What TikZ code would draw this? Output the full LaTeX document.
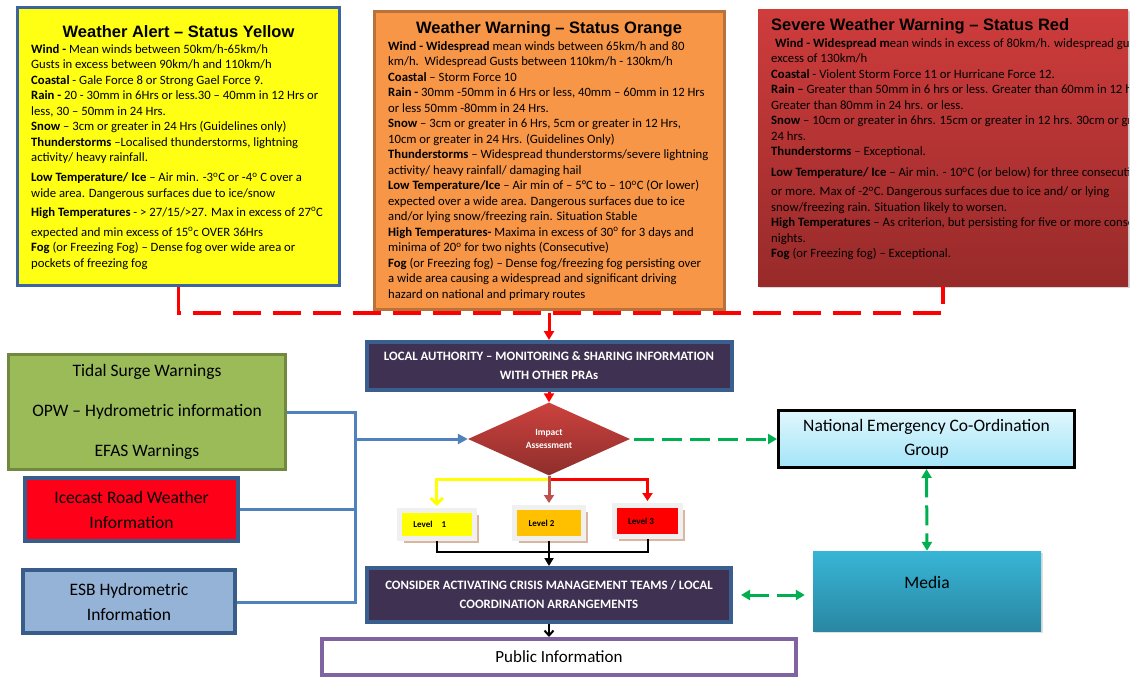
\documentclass[tikz,border=0pt]{standalone}
\usepackage{fontspec}
\setmainfont{Carlito}
\newfontfamily\headfont{Liberation Sans}
\usepackage{xcolor}
\usetikzlibrary{shapes.geometric,arrows.meta,shadows}

\definecolor{alertyellow}{HTML}{FFFF14}
\definecolor{alertframe}{HTML}{3B64A0}
\definecolor{warnorange}{HTML}{F79646}
\definecolor{warnframe}{HTML}{B9723A}
\definecolor{severetop}{HTML}{CF3C3C}
\definecolor{severebottom}{HTML}{982A2A}
\definecolor{alertred}{HTML}{FF0000}
\definecolor{actionpurple}{HTML}{3F3151}
\definecolor{actionframe}{HTML}{3A5E8E}
\definecolor{impacttop}{HTML}{CC423E}
\definecolor{impactbottom}{HTML}{8E2E2B}
\definecolor{feedblue}{HTML}{4F81BD}
\definecolor{tidalgreen}{HTML}{9BBB59}
\definecolor{tidalframe}{HTML}{71893F}
\definecolor{icecastred}{HTML}{FF0019}
\definecolor{esbblue}{HTML}{95B3D7}
\definecolor{sourceframe}{HTML}{385D8A}
\definecolor{necgtop}{HTML}{E0F7FD}
\definecolor{necgbottom}{HTML}{A3E4F8}
\definecolor{mediatop}{HTML}{38B5D6}
\definecolor{mediabottom}{HTML}{2987A2}
\definecolor{linkgreen}{HTML}{00B050}
\definecolor{levelyellow}{HTML}{FFFF00}
\definecolor{levelamber}{HTML}{FFC000}
\definecolor{levelred}{HTML}{FF0000}
\definecolor{levelarrow}{HTML}{C0504D}
\definecolor{levelframe}{HTML}{F0F0F0}
\definecolor{levelshadow}{HTML}{D9B79F}
\definecolor{publicframe}{HTML}{8064A2}

\begin{document}
\begin{tikzpicture}[x=1pt,y=-1pt]
		 %\draw[help lines] (0,0) grid (1134,678);
		 \tikzset{
		 box/.style 		= {rectangle, inner sep=0pt},
		 boxtitle/.style 	= {inner sep=0pt, font=\headfont\bfseries\fontsize{16.5}{19}\selectfont},
		 bodytext/.style 	= {align=left, inner sep=0pt, font=\fontsize{12.7}{15.5}\selectfont},
		 actionbox/.style 	= {box, draw=actionframe, line width=4pt, fill=actionpurple, text=white, align=center, font=\bfseries\fontsize{12.8}{19}\selectfont},
		 sourcebox/.style 	= {box, draw=sourceframe, line width=4pt, align=center, font=\fontsize{17.5}{25}\selectfont},
		 levelbox/.style 	= {box, draw=levelframe, line width=5pt, font=\bfseries\fontsize{9}{11}\selectfont,
		 					   drop shadow={fill=levelshadow, opacity=1, shadow xshift=4.5pt, shadow yshift=-4.5pt}},
		 alertline/.style 	= {draw=alertred, line width=3.5pt, dash pattern=on 28pt off 12pt},
		 alertarrow/.style 	= {draw=alertred, line width=3pt, -{Triangle[length=9pt,width=10pt]}},
		 feedline/.style 	= {draw=feedblue, line width=3pt},
		 linkline/.style 	= {draw=linkgreen, line width=3pt, dash pattern=on 20pt off 8pt},
		 levelflow/.style 	= {draw=black, line width=2pt}
		 }
		 \fill[white] (0,0) rectangle (1134,678);
		 \useasboundingbox (0,0) rectangle (1134,678);
		 
		 % warning boxes
		 \node[box, draw=alertframe, line width=3pt, fill=alertyellow, minimum width=322pt, minimum height=278pt] (yellowbox) at (178.5,146.5) {};
		 \node[boxtitle] (yellowtitle) at (178.5,32) {Weather Alert – Status Yellow};
		 \node[bodytext, anchor=north west] (yellowtext) at (31,44) {%
		 \textbf{Wind -} Mean winds between 50km/h-65km/h\\
		 Gusts in excess between 90km/h and 110km/h\\
		 \textbf{Coastal} - Gale Force 8 or Strong Gael Force 9.\\
		 \textbf{Rain -} 20 - 30mm in 6Hrs or less.30 – 40mm in 12 Hrs or\\
		 less, 30 – 50mm in 24 Hrs.\\
		 \textbf{Snow} – 3cm or greater in 24 Hrs (Guidelines only)\\
		 \textbf{Thunderstorms} –Localised thunderstorms, lightning\\
		 activity/ heavy rainfall.\\[4.5pt]
		 \textbf{Low Temperature/ Ice} – Air min. -3\textsuperscript{o}C or -4\textsuperscript{o} C over a\\
		 wide area. Dangerous surfaces due to ice/snow\\[3.5pt]
		 \textbf{High Temperatures} - > 27/15/>27. Max in excess of 27\textsuperscript{o}C\\[4.5pt]
		 expected and min excess of 15\textsuperscript{o}c OVER 36Hrs\\
		 \textbf{Fog} (or Freezing Fog) – Dense fog over wide area or\\
		 pockets of freezing fog};
		 
		 \node[box, draw=warnframe, line width=3pt, fill=warnorange, minimum width=350pt, minimum height=298pt] (orangebox) at (549,160.5) {};
		 \node[boxtitle] (orangetitle) at (549,29) {Weather Warning – Status Orange};
		 \node[bodytext, anchor=north west] (orangetext) at (388,41) {%
		 \textbf{Wind - Widespread} mean winds between 65km/h and 80\\
		 km/h.\ \ Widespread Gusts between 110km/h - 130km/h\\
		 \textbf{Coastal} – Storm Force 10\\
		 \textbf{Rain -} 30mm -50mm in 6 Hrs or less, 40mm – 60mm in 12 Hrs\\
		 or less 50mm -80mm in 24 Hrs.\\
		 \textbf{Snow} – 3cm or greater in 6 Hrs, 5cm or greater in 12 Hrs,\\
		 10cm or greater in 24 Hrs. (Guidelines Only)\\
		 \textbf{Thunderstorms} – Widespread thunderstorms/severe lightning\\
		 activity/ heavy rainfall/ damaging hail\\
		 \textbf{Low Temperature/Ice} – Air min of – 5°C to – 10\textsuperscript{o}C (Or lower)\\
		 expected over a wide area. Dangerous surfaces due to ice\\
		 and/or lying snow/freezing rain. Situation Stable\\
		 \textbf{High Temperatures-} Maxima in excess of 30\textsuperscript{o} for 3 days and\\
		 minima of 20\textsuperscript{o} for two nights (Consecutive)\\
		 \textbf{Fog} (or Freezing fog) – Dense fog/freezing fog persisting over\\
		 a wide area causing a widespread and significant driving\\
		 hazard on national and primary routes};
		 
		 \node[box, top color=severetop, bottom color=severebottom, minimum width=370pt, minimum height=277pt,
		 	   drop shadow={opacity=0.3, shadow xshift=2pt, shadow yshift=-2pt}] (redbox) at (943,147.5) {};
		 \begin{scope}
		 \clip (redbox.south west) rectangle (redbox.north east);
		 \node[boxtitle, anchor=west] (redtitle) at (771,26) {Severe Weather Warning – Status Red};
		 \node[bodytext, anchor=north west] (redtext) at (771,38) {%
		 \hspace*{4pt}\textbf{Wind - Widespread m}ean winds in excess of 80km/h. widespread gusts in\\
		 excess of 130km/h\\
		 \textbf{Coastal} - Violent Storm Force 11 or Hurricane Force 12.\\
		 \textbf{Rain –} Greater than 50mm in 6 hrs or less. Greater than 60mm in 12 hrs or less.\\
		 Greater than 80mm in 24 hrs. or less.\\
		 \textbf{Snow} – 10cm or greater in 6hrs. 15cm or greater in 12 hrs. 30cm or greater in\\
		 24 hrs.\\
		 \textbf{Thunderstorms} – Exceptional.\\[5.5pt]
		 \textbf{Low Temperature/ Ice} – Air min. - 10\textsuperscript{o}C (or below) for three consecutive nights\\[3.5pt]
		 or more. Max of -2\textsuperscript{o}C. Dangerous surfaces due to ice and/ or lying\\
		 snow/freezing rain. Situation likely to worsen.\\
		 \textbf{High Temperatures} – As criterion, but persisting for five or more consecutive\\
		 nights.\\
		 \textbf{Fog} (or Freezing fog) – Exceptional.};
		 \end{scope}
		 
		 % flow
		 \node[actionbox, minimum width=365pt, minimum height=48pt] (localauth) at (549,366)
		 	{LOCAL AUTHORITY – MONITORING \& SHARING INFORMATION\\WITH OTHER PRAs};
		 \node[diamond, minimum width=162pt, minimum height=73pt, inner sep=0pt, top color=impacttop, bottom color=impactbottom,
		 	   text=white, align=center, font=\bfseries\fontsize{9.5}{13}\selectfont] (impact) at (549,439) {Impact\\Assessment};
		 
		 \node[levelbox, fill=levelyellow, minimum width=74.5pt, minimum height=28pt] (levelone) at (436.75,524.5) {Level\quad 1\rule{14pt}{0pt}};
		 \node[levelbox, fill=levelamber, minimum width=69pt, minimum height=31pt] (leveltwo) at (549,523) {Level 2\rule{15pt}{0pt}};
		 \node[levelbox, fill=levelred, minimum width=66pt, minimum height=31pt] (levelthree) at (647.5,521) {Level 3\rule{13pt}{0pt}};
		 
		 \node[actionbox, minimum width=364pt, minimum height=54pt] (consider) at (549,595)
		 	{CONSIDER ACTIVATING CRISIS MANAGEMENT TEAMS / LOCAL\\COORDINATION ARRANGEMENTS};
		 \node[box, draw=publicframe, line width=4pt, fill=white, minimum width=474pt, minimum height=36pt,
		 	   font=\fontsize{17}{20}\selectfont] (public) at (559,657) {Public Information};
		 
		 % sources
		 \node[sourcebox, draw=tidalframe, line width=3pt, fill=tidalgreen, minimum width=277pt, minimum height=115pt,
		 	   font=\fontsize{17.5}{40}\selectfont] (tidal) at (147,412)
		 	{Tidal Surge Warnings\\OPW – Hydrometric information\\EFAS Warnings};
		 \node[sourcebox, fill=icecastred, minimum width=213pt, minimum height=63pt] (icecast) at (131.5,509.5)
		 	{Icecast Road Weather\\Information};
		 \node[sourcebox, fill=esbblue, minimum width=212pt, minimum height=63pt] (esb) at (129,601.5)
		 	{ESB Hydrometric\\Information};
		 
		 % national
		 \node[box, draw=black, line width=3pt, top color=necgtop, bottom color=necgbottom, minimum width=296pt, minimum height=57pt,
		 	   align=center, font=\fontsize{17.5}{24}\selectfont] (necg) at (926.5,439) {National Emergency Co-Ordination\\Group};
		 \node[box, top color=mediatop, bottom color=mediabottom, minimum width=228pt, minimum height=80pt,
		 	   drop shadow={opacity=0.25, shadow xshift=2pt, shadow yshift=-2pt}] (media) at (927,591) {};
		 \node[inner sep=0pt, font=\fontsize{17.5}{21}\selectfont] (mediatext) at (927,582) {Media};
		 
		 % connectors
		 \coordinate (alertbus) at (549,313);
		 \draw[alertline] (yellowbox.south) -- (yellowbox.south |- alertbus) -| (redbox.south);
		 \draw[alertarrow] (alertbus) -- (localauth.north);
		 \draw[alertarrow] (localauth.south) -- (impact.north);
		 
		 \coordinate (feedtop) at (355,412);
		 \coordinate (feedbottom) at (355,602);
		 \draw[feedline] (tidal.east |- feedtop) -- (feedtop) -- (feedbottom) -- (esb.east |- feedbottom);
		 \draw[feedline] (icecast.east) -- (icecast.east -| feedtop);
		 \draw[feedline, -{Triangle[length=10pt,width=10pt]}] (feedtop |- impact) -- (impact.west);
		 
		 \draw[linkline, -{Triangle[length=9pt,width=10pt]}, shorten <=4pt] (impact.east) -- (necg.west);
		 \draw[linkline, {Triangle[length=9pt,width=10pt]}-{Triangle[length=9pt,width=10pt]}] (necg.south) -- (media.north);
		 \draw[linkline, {Triangle[length=9pt,width=10pt]}-{Triangle[length=9pt,width=10pt]}, shorten <=8pt, shorten >=8pt]
		 	(consider.east) -- (consider.east -| media.west);
		 
		 \coordinate (branch) at (549,479);
		 \draw[draw=levelyellow, line width=3pt, -{Straight Barb[length=6pt,width=12pt]}, shorten >=2pt] (impact.south) -- (branch) -| (levelone.north);
		 \draw[draw=levelred, line width=3pt, -{Triangle[length=8pt,width=10pt]}, shorten >=2pt] (impact.south) -- (branch) -| (levelthree.north);
		 \draw[draw=levelarrow, line width=3pt, -{Triangle[length=8pt,width=10pt]}, shorten >=2pt] (impact.south) -- (leveltwo.north);
		 
		 \coordinate (merge) at (549,552);
		 \draw[levelflow] (levelone.south) |- (merge);
		 \draw[levelflow] (levelthree.south) |- (merge);
		 \draw[levelflow, -{Triangle[length=8pt,width=9pt]}] (leveltwo.south) -- (consider.north);
		 \draw[levelflow, -{Straight Barb[length=5pt,width=9pt]}] (consider.south) -- (consider.south |- public.north);
\end{tikzpicture}
\end{document}
